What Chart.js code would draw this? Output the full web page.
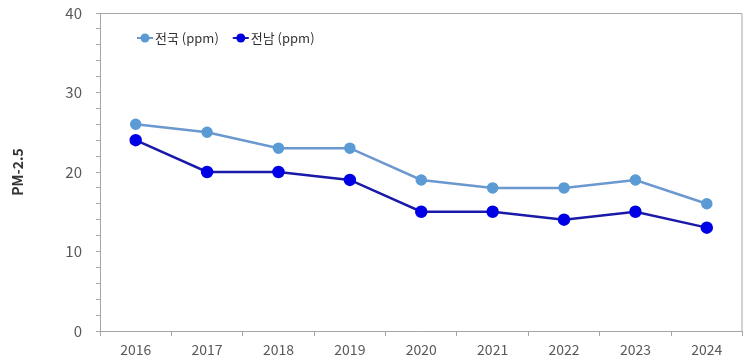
<!DOCTYPE html>
<html>
<head>
<meta charset="utf-8">
<script src="https://cdn.jsdelivr.net/npm/chart.js@4"></script>
<style>
  html, body { margin: 0; padding: 0; background: #fff; }
  #wrap { width: 750px; height: 364px; }
</style>
</head>
<body>
<div id="wrap"><canvas id="pmChart" width="750" height="364"></canvas></div>
<script>
const years = ['2016', '2017', '2018', '2019', '2020', '2021', '2022', '2023', '2024'];
const national = [26, 25, 23, 23, 19, 18, 18, 19, 16];
const jeonnam = [24, 20, 20, 19, 15, 15, 14, 15, 13];
const seriesNames = ['전국 (ppm)', '전남 (ppm)'];

const FONT = '"Noto Sans CJK KR", "Noto Sans", sans-serif';

// legend drawn inside the plot, top-left, like the original
const insideLegend = {
  id: 'insideLegend',
  afterDraw(chart) {
    const ctx = chart.ctx;
    let x = 137;
    const y = 38;
    ctx.save();
    ctx.font = '13px ' + FONT;
    ctx.textBaseline = 'middle';
    chart.data.datasets.forEach(ds => {
      ctx.strokeStyle = ds.borderColor;
      ctx.lineWidth = 2;
      ctx.beginPath();
      ctx.moveTo(x, y);
      ctx.lineTo(x + 16, y);
      ctx.stroke();
      ctx.fillStyle = ds.pointBackgroundColor;
      ctx.beginPath();
      ctx.arc(x + 8, y, 4.5, 0, Math.PI * 2);
      ctx.fill();
      ctx.fillStyle = '#333';
      ctx.fillText(ds.label, x + 18, y);
      x += 18 + ctx.measureText(ds.label).width + 14;
    });
    ctx.restore();
  }
};

// top and right frame lines of the plot area
const frame = {
  id: 'frame',
  beforeDatasetsDraw(chart) {
    const { ctx, chartArea: a } = chart;
    ctx.save();
    ctx.strokeStyle = '#a6a6a6';
    ctx.lineWidth = 1;
    ctx.beginPath();
    ctx.moveTo(a.left, a.top + 0.5);
    ctx.lineTo(a.right - 0.5, a.top + 0.5);
    ctx.lineTo(a.right - 0.5, a.bottom);
    ctx.stroke();
    ctx.restore();
  }
};

new Chart(document.getElementById('pmChart'), {
  type: 'line',
  data: {
    labels: years,
    datasets: [
      {
        label: seriesNames[0],
        data: national,
        borderColor: '#6a98cf',
        backgroundColor: '#5b9bd5',
        pointBackgroundColor: '#5b9bd5',
        pointBorderColor: '#5b9bd5',
        borderWidth: 2.5,
        pointRadius: 4.5,
        tension: 0
      },
      {
        label: seriesNames[1],
        data: jeonnam,
        borderColor: '#1a1aa8',
        backgroundColor: '#0000e6',
        pointBackgroundColor: '#0000e6',
        pointBorderColor: '#0000e6',
        borderWidth: 2.5,
        pointRadius: 5,
        tension: 0
      }
    ]
  },
  options: {
    responsive: false,
    animation: false,
    layout: { padding: { top: 13, right: 7, bottom: 0, left: 0 } },
    plugins: {
      legend: { display: false },
      tooltip: { enabled: false }
    },
    scales: {
      x: {
        offset: true,
        grid: { offset: true, drawOnChartArea: false, tickLength: 5, color: '#a6a6a6' },
        border: { color: '#a6a6a6' },
        ticks: { color: '#595959', font: { family: FONT, size: 14 }, padding: 5, maxRotation: 0 },
        afterFit(scale) { scale.height = 33; scale.paddingLeft = 0; scale.paddingRight = 0; }
      },
      y: {
        min: 0,
        max: 40,
        grid: { drawOnChartArea: false, tickLength: 4, color: '#a6a6a6' },
        border: { color: '#a6a6a6' },
        ticks: {
          stepSize: 2,
          autoSkip: false,
          color: '#595959',
          font: { family: FONT, size: 15 },
          padding: 14,
          callback: v => (v % 10 === 0 ? v : '')
        },
        title: {
          display: true,
          text: 'PM-2.5',
          color: '#333',
          font: { family: FONT, size: 14, weight: 'bold' },
          padding: { top: 9, bottom: 0 }
        },
        afterFit(scale) { scale.width = 100; scale.paddingTop = 0; scale.paddingBottom = 0; }
      }
    }
  },
  plugins: [frame, insideLegend]
});
</script>
</body>
</html>
